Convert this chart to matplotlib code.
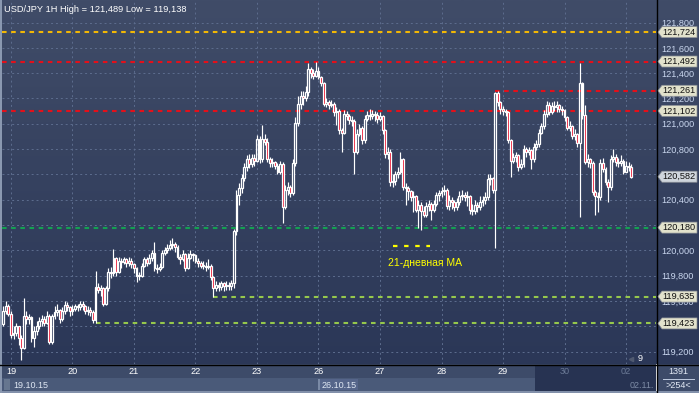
import numpy as np
import matplotlib
matplotlib.use('Agg')
import matplotlib.pyplot as plt
from matplotlib.patches import Rectangle, Polygon
import matplotlib.transforms as mtransforms
from matplotlib.ticker import FuncFormatter

plt.rcParams['font.family'] = ['Liberation Sans', 'DejaVu Sans']

# ---------------- data ----------------
title = "USD/JPY 1H High = 121,489 Low = 119,138"
first_hour = -3          # hourly bars, hour 0 = 19.10 00:00 (weekend removed)
first_open = 119.42

close = [
    # 19
    119.52, 119.56, 119.50, 119.33, 119.35, 119.40, 119.31, 119.23, 119.48, 119.46, 119.47, 119.31, 119.36, 119.40,
    119.44, 119.46, 119.43, 119.48, 119.28, 119.48, 119.51, 119.53, 119.46, 119.52, 119.57, 119.55, 119.52,
    # 20
    119.54, 119.56, 119.55, 119.58, 119.56, 119.52, 119.53, 119.51, 119.45, 119.71, 119.69, 119.70,
    119.58, 119.70, 119.83, 119.82, 119.94, 119.83, 119.92, 119.91, 119.93, 119.90, 119.92, 119.89,
    # 21
    119.86, 119.80, 119.80, 119.88, 119.93, 119.90, 119.94, 119.98, 119.86, 119.85, 119.87, 119.98,
    120.00, 120.02, 120.04, 120.05, 120.03, 119.95, 119.93, 119.97, 119.86, 119.94, 119.97, 119.96,
    # 22
    119.92, 119.90, 119.88, 119.88, 119.87, 119.88, 119.79, 119.70, 119.73, 119.71, 119.74, 119.72,
    119.73, 119.72, 119.74, 120.15, 120.44, 120.49, 120.57, 120.66, 120.72, 120.68, 120.73, 120.71,
    # 23
    120.88, 120.72, 120.88, 120.86, 120.72, 120.69, 120.70, 120.67, 120.62, 120.68, 120.34, 120.48,
    120.50, 120.45, 120.69, 121.01, 121.16, 121.22, 121.20, 121.25, 121.43, 121.40, 121.38, 121.42,
    # 26
    121.37, 121.32, 121.16, 121.17, 121.15, 121.16, 121.09, 121.10, 120.95, 120.93, 121.08, 121.06,
    121.03, 121.02, 120.78, 120.92, 120.97, 120.87, 121.04, 121.07, 121.06, 121.08, 121.07, 121.04,
    # 27
    121.06, 120.95, 120.76, 120.78, 120.54, 120.55, 120.60, 120.62, 120.72, 120.50, 120.49, 120.47,
    120.42, 120.43, 120.32, 120.36, 120.31, 120.28, 120.35, 120.37, 120.32, 120.37, 120.44, 120.45,
    # 28
    120.47, 120.48, 120.35, 120.40, 120.38, 120.34, 120.38, 120.43, 120.44, 120.42, 120.43, 120.32,
    120.31, 120.36, 120.34, 120.38, 120.40, 120.42, 120.56, 120.57, 120.48, 121.24, 121.17, 121.12,
    # 29
    121.10, 121.09, 120.87, 120.71, 120.74, 120.75, 120.66, 120.68, 120.80, 120.78, 120.79, 120.72,
    120.82, 120.84, 120.93, 120.98, 121.08, 121.15, 121.09, 121.14, 121.13, 121.15, 121.12, 121.11,
    # 30
    121.05, 120.97, 120.98, 120.90, 120.92, 120.85, 121.32, 121.07, 120.70, 120.72, 120.69, 120.46,
    120.43, 120.42, 120.69, 120.64, 120.54, 120.50, 120.72, 120.74, 120.70, 120.69, 120.71, 120.62,
    # 02
    120.67, 120.66, 120.582,
]

high = [
    119.56, 119.60, 119.58, 119.52, 119.40, 119.43, 119.40, 119.33, 119.62, 119.52, 119.50, 119.48, 119.40, 119.44,
    119.47, 119.49, 119.48, 119.52, 119.50, 119.50, 119.56, 119.58, 119.54, 119.55, 119.60, 119.59, 119.56,
    119.57, 119.58, 119.58, 119.60, 119.60, 119.57, 119.56, 119.55, 119.53, 119.84, 119.74, 119.73,
    119.71, 119.72, 119.86, 119.87, 120.01, 119.95, 119.95, 119.94, 119.95, 119.94, 119.95, 119.94,
    119.90, 119.87, 119.83, 119.90, 119.95, 119.95, 119.97, 120.00, 120.07, 119.89, 119.90, 120.00,
    120.03, 120.05, 120.08, 120.10, 120.07, 120.04, 119.97, 120.00, 119.98, 119.98, 120.00, 119.98,
    119.97, 119.94, 119.92, 119.92, 119.91, 119.93, 119.89, 119.80, 119.76, 119.75, 119.76, 119.75,
    119.76, 119.75, 119.77, 120.17, 120.48, 120.53, 120.60, 120.69, 120.75, 120.76, 120.76, 120.76,
    120.91, 120.90, 120.99, 120.92, 120.89, 120.74, 120.73, 120.71, 120.69, 120.71, 120.70, 120.52,
    120.54, 120.52, 120.72, 121.05, 121.22, 121.26, 121.26, 121.30, 121.48, 121.45, 121.43, 121.489,
    121.45, 121.38, 121.33, 121.20, 121.19, 121.19, 121.17, 121.13, 121.12, 120.97, 121.11, 121.10,
    121.08, 121.06, 121.04, 120.96, 121.00, 120.98, 121.07, 121.10, 121.12, 121.11, 121.10, 121.09,
    121.09, 121.07, 120.96, 120.82, 120.80, 120.60, 120.63, 120.66, 120.78, 120.73, 120.53, 120.51,
    120.48, 120.47, 120.44, 120.40, 120.38, 120.35, 120.38, 120.40, 120.38, 120.40, 120.46, 120.48,
    120.50, 120.52, 120.49, 120.44, 120.42, 120.40, 120.41, 120.47, 120.48, 120.46, 120.47, 120.44,
    120.37, 120.40, 120.38, 120.43, 120.43, 120.46, 120.60, 120.60, 120.58, 121.25, 121.261, 121.18,
    121.14, 121.12, 121.10, 120.88, 120.77, 120.78, 120.76, 120.72, 120.83, 120.82, 120.82, 120.80,
    120.85, 120.87, 120.96, 121.01, 121.11, 121.18, 121.17, 121.17, 121.18, 121.18, 121.16, 121.14,
    121.12, 121.06, 121.02, 120.99, 120.96, 120.93, 121.48, 121.33, 121.15, 120.76, 120.73, 120.71,
    120.48, 120.46, 120.72, 120.73, 120.66, 120.56, 120.75, 120.80, 120.76, 120.73, 120.75, 120.72,
    120.71, 120.70, 120.68,
]

low = [
    119.40, 119.50, 119.48, 119.31, 119.30, 119.32, 119.25, 119.138, 119.22, 119.42, 119.42, 119.28, 119.24, 119.33,
    119.38, 119.40, 119.40, 119.42, 119.26, 119.26, 119.46, 119.48, 119.43, 119.44, 119.50, 119.52, 119.48,
    119.49, 119.52, 119.52, 119.53, 119.53, 119.50, 119.49, 119.48, 119.43, 119.423, 119.66, 119.64,
    119.56, 119.57, 119.68, 119.78, 119.80, 119.80, 119.82, 119.86, 119.89, 119.87, 119.88, 119.86,
    119.82, 119.75, 119.77, 119.79, 119.87, 119.88, 119.89, 119.92, 119.84, 119.82, 119.84, 119.86,
    119.96, 119.98, 120.00, 120.01, 119.99, 119.93, 119.89, 119.92, 119.84, 119.85, 119.93, 119.92,
    119.90, 119.87, 119.86, 119.85, 119.84, 119.85, 119.77, 119.635, 119.68, 119.68, 119.69, 119.68,
    119.69, 119.69, 119.69, 119.70, 120.12, 120.36, 120.45, 120.55, 120.63, 120.65, 120.66, 120.67,
    120.70, 120.69, 120.70, 120.83, 120.70, 120.66, 120.66, 120.64, 120.60, 120.60, 120.22, 120.33,
    120.44, 120.42, 120.44, 120.67, 120.98, 121.12, 121.15, 121.18, 121.22, 121.36, 121.35, 121.37,
    121.35, 121.30, 121.14, 121.13, 121.12, 121.13, 121.06, 120.99, 120.92, 120.78, 120.92, 121.03,
    121.00, 120.98, 120.60, 120.76, 120.90, 120.84, 120.85, 121.02, 121.03, 121.04, 121.02, 121.01,
    121.02, 120.92, 120.73, 120.72, 120.51, 120.50, 120.52, 120.57, 120.60, 120.48, 120.36, 120.40,
    120.39, 120.30, 120.30, 120.18, 120.16, 120.26, 120.26, 120.31, 120.24, 120.30, 120.35, 120.39,
    120.42, 120.44, 120.33, 120.32, 120.33, 120.31, 120.32, 120.36, 120.40, 120.39, 120.35, 120.29,
    120.28, 120.29, 120.30, 120.32, 120.35, 120.37, 120.40, 120.52, 120.45, 120.02, 121.14, 121.08,
    121.07, 121.06, 120.85, 120.58, 120.69, 120.70, 120.63, 120.64, 120.66, 120.74, 120.75, 120.64,
    120.70, 120.79, 120.82, 120.92, 120.96, 121.05, 121.07, 121.08, 121.10, 121.09, 121.09, 121.07,
    121.02, 120.95, 120.94, 120.88, 120.87, 120.82, 120.26, 121.04, 120.68, 120.66, 120.65, 120.44,
    120.28, 120.30, 120.40, 120.62, 120.52, 120.38, 120.48, 120.70, 120.67, 120.66, 120.67, 120.60,
    120.62, 120.63, 120.57,
]

day_ticks = [0, 24, 48, 72, 96, 120, 144, 168, 192, 216, 240]
day_labels = ['19', '20', '21', '22', '23', '26', '27', '28', '29', '30', '02']
dim_days = ['30', '02']

levels = [121.724, 121.492, 121.261, 121.102, 120.180, 119.635, 119.423]
level_start = [None, None, 189, None, None, 79, 33]
level_colors = ['#f2b705', '#e3101a', '#e3101a', '#e3101a', '#14a052', '#96c84c', '#96c84c']
last_price = 120.582
y_ticks = [119.2, 119.4, 119.6, 119.8, 120.0, 120.2, 120.4, 120.6, 120.8, 121.0, 121.2, 121.4, 121.6, 121.8]
hidden_ticks = [119.4, 120.2, 120.6]   # fully covered by price tags in the reference

ma_label = "21-дневная MA"
nav_left, nav_mid, nav_right = "19.10.15", "26.10.15", "02.11."
bar_count, bar_visible = "1391", ">254<"
last_marker = "9"

# ---------------- figure ----------------
W, H = 699, 393
fig = plt.figure(figsize=(W / 100, H / 100), dpi=100)
bg = fig.add_axes([0, 0, 1, 1])
bg.set_xlim(0, W)
bg.set_ylim(H, 0)
bg.axis('off')

top_c = np.array([64, 76, 104]) / 255
bot_c = np.array([43, 55, 87]) / 255
t = np.linspace(0, 1, 200)[:, None]
grad = (top_c[None, :] * (1 - t) + bot_c[None, :] * t)[:, None, :]
bg.imshow(grad, extent=[0, W, 364, 0], aspect='auto', interpolation='bilinear', zorder=0)

bg.add_patch(Rectangle((0, 364), 656, 14, fc='#3d4b69', ec='none', zorder=1))
bg.add_patch(Rectangle((0, 378), 656, 13, fc='#4a5a79', ec='none', zorder=1))
bg.add_patch(Rectangle((535, 365.5), 121, 25.5, fc='#273352', ec='none', zorder=2))
bg.add_patch(Rectangle((0, 391), W, 2, fc='#8290aa', ec='none', zorder=2))
bg.add_patch(Rectangle((657, 364), 42, 27, fc='#3d4b69', ec='none', zorder=1))
bg.add_patch(Rectangle((0, 0), 1.5, H, fc='#8a98b0', ec='none', zorder=3))
bg.add_patch(Rectangle((3.5, 379), 6, 11, fc='#66768f', ec='none', zorder=3))
bg.add_patch(Rectangle((318, 379), 40, 11, fc='#55658a', ec='none', zorder=3))
bg.add_patch(Rectangle((318, 379), 2, 11, fc='#7a8aa6', ec='none', zorder=3))
bg.plot([656.5, 656.5], [0, H], color='black', lw=1, zorder=4)
bg.plot([0, W], [364.5, 364.5], color='black', lw=1, zorder=4)
bg.plot([663, 694], [378.5, 378.5], color='#c0cbe0', lw=0.7, zorder=4)

txt_kw = dict(fontsize=6.5, va='center', zorder=5)
bg.text(13, 385, nav_left, color='#dfe7f3', ha='left', **txt_kw)
bg.text(322, 385, nav_mid, color='#dfe7f3', ha='left', **txt_kw)
bg.text(654, 385, nav_right, color='#7d8ba5', ha='right', **txt_kw)
bg.text(678, 371.5, bar_count, color='#e3eaf5', ha='center', **txt_kw)
bg.text(678, 385.5, bar_visible, color='#e3eaf5', ha='center', **txt_kw)

fig.text(4 / W, 1 - 9 / H, title, fontsize=6.7, color='white', va='center', ha='left')

# ---------------- main price axes ----------------
ax = fig.add_axes([2 / W, 29 / H, 654 / W, 364 / H])
ax.set_facecolor('none')
x_left, x_right = -3.5, 251.7
ax.set_xlim(x_left, x_right)
ax.set_ylim(119.1025, 121.978)
for s in ax.spines.values():
    s.set_visible(False)


def price_fmt(v, p):
    if any(abs(v - h) < 1e-6 for h in hidden_ticks):
        return ''
    return f"{v:.3f}".replace('.', ',')


ax.set_yticks(y_ticks)
ax.yaxis.tick_right()
ax.yaxis.set_major_formatter(FuncFormatter(price_fmt))
ax.tick_params(axis='y', length=0, pad=3.5, labelsize=6.6, labelcolor='#c9d6ee')
ax.set_xticks(day_ticks, day_labels)
ax.tick_params(axis='x', length=0, pad=2.5, labelsize=6.6, labelcolor='white')
for lab in ax.get_xticklabels():
    if lab.get_text() in dim_days:
        lab.set_color('#6b7a96')
ax.grid(True, color='#5d6d8e', ls=(0, (2, 3)), lw=0.7)
ax.set_axisbelow(True)

# candles
hours = np.arange(first_hour, first_hour + len(close))
opens = [first_open] + close[:-1]
bw = 0.74
for hr, o, c, hi, lo in zip(hours, opens, close, high, low):
    top, bot = max(o, c), min(o, c)
    ax.plot([hr, hr], [top, hi], color='white', lw=0.85, solid_capstyle='butt', zorder=3)
    ax.plot([hr, hr], [lo, bot], color='white', lw=0.85, solid_capstyle='butt', zorder=3)
    fc = '#e8001e' if c < o else 'none'
    ax.add_patch(Rectangle((hr - bw / 2, bot), bw, max(top - bot, 0.004),
                           fc=fc, ec='white', lw=0.9, zorder=4))

# level lines
for lv, st, col in zip(levels, level_start, level_colors):
    x0 = x_left if st is None else st
    ax.plot([x0, x_right], [lv, lv], color=col, lw=1.5, ls=(0, (2.2, 2.2)), zorder=2.5)

# price tags
blend = mtransforms.blended_transform_factory(ax.transAxes, ax.transData)
tag_verts = np.array([[0.02, 0], [0.06, 0.055], [0.41, 0.055], [0.41, -0.055], [0.06, -0.055]])
for lv, fc in [(v, '#e2e2cc') for v in levels] + [(last_price, '#cfd5dc')]:
    tr = fig.dpi_scale_trans + mtransforms.ScaledTranslation(1.0, lv, blend)
    ax.add_patch(Polygon(tag_verts, closed=True, fc=fc, ec='#8a8f96', lw=0.5,
                         transform=tr, clip_on=False, zorder=8))
    ax.annotate(f"{lv:.3f}".replace('.', ','), xy=(1.0, lv), xycoords=blend,
                xytext=(4.8, 0), textcoords='offset points', va='center', ha='left',
                fontsize=6.6, color='#111111', zorder=9, annotation_clip=False)

# MA legend
ax.plot([0.598, 0.655], [0.325, 0.325], transform=ax.transAxes, color='#ffff00',
        lw=1.6, ls=(0, (2, 3)), zorder=5)
ax.text(0.590, 0.277, ma_label, transform=ax.transAxes, color='#ffff00', fontsize=7.5,
        va='center', ha='left', zorder=5)

# bar marker
ax.plot([0.962], [0.014], marker='<', ms=3, color='#505a70', transform=ax.transAxes,
        clip_on=False, zorder=5)
ax.text(0.976, 0.016, last_marker, transform=ax.transAxes, color='white', fontsize=6.5,
        va='center', ha='center', zorder=5)

fig.savefig('out.png', dpi=100)
